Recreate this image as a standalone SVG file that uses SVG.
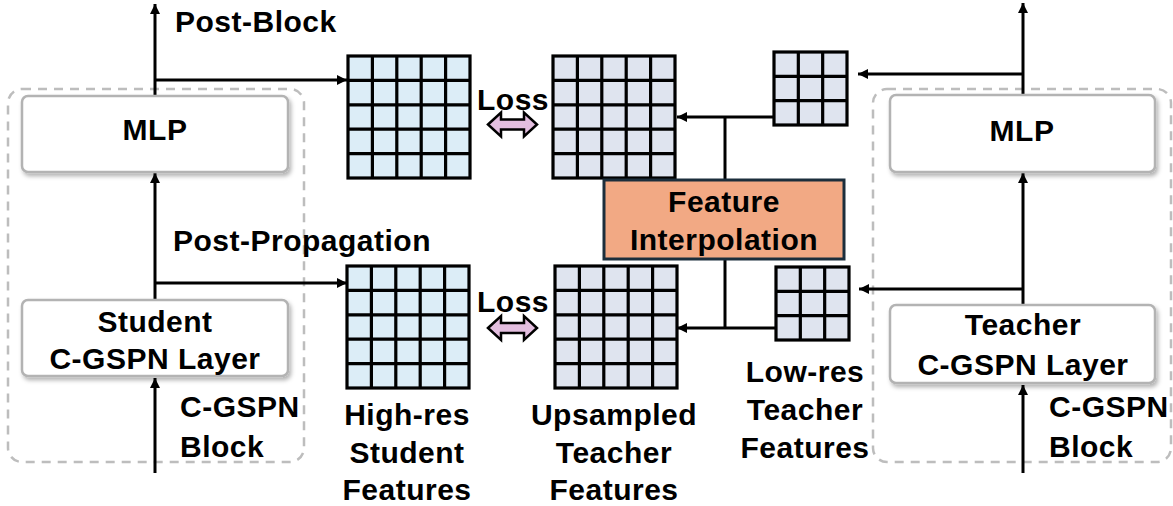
<svg xmlns="http://www.w3.org/2000/svg" xmlns:xlink="http://www.w3.org/1999/xlink" width="1173" height="506" viewBox="0 0 1173 506">
<style>
text{font-family:"Liberation Sans",Arial,sans-serif;font-weight:bold;font-size:30px;letter-spacing:0.5px;fill:#000}
.c{text-anchor:middle}
.box{fill:#fff;stroke:#b3b3b3;stroke-width:2.5}
.dash{fill:none;stroke:#bdbdbd;stroke-width:2.5;stroke-dasharray:9 7}
.grid{stroke:#000;stroke-width:3.2}
.ln{fill:none;stroke:#000;stroke-width:3}
.arr{fill:none;stroke:#000;stroke-width:3;marker-end:url(#ah)}
.loss{fill:#e3bedf;stroke:#000;stroke-width:2.5;stroke-linejoin:miter}
</style>
<defs>
<marker id="ah" viewBox="0 0 10 10" refX="10" refY="5" markerWidth="11" markerHeight="10" markerUnits="userSpaceOnUse" orient="auto">
<path d="M0 0L10 5L0 10z" fill="#000"/>
</marker>
<filter id="sh" x="-10%" y="-20%" width="120%" height="150%">
<feDropShadow dx="2" dy="3" stdDeviation="2" flood-color="#000" flood-opacity="0.3"/>
</filter>
<g id="g5" class="grid">
<rect width="122" height="122"/>
<path fill="none" d="M24.4 0V122M48.8 0V122M73.2 0V122M97.6 0V122M0 24.4H122M0 48.8H122M0 73.2H122M0 97.6H122"/>
</g>
<g id="g3" class="grid">
<rect width="73" height="73"/>
<path fill="none" d="M24.33 0V73M48.67 0V73M0 24.33H73M0 48.67H73"/>
</g>
</defs>

<g id="containers">
<rect class="dash" x="8" y="89" width="296" height="373" rx="14"/>
<rect class="dash" x="873" y="89" width="298" height="373" rx="14"/>
</g>

<g id="connectors">
<path class="arr" d="M155 473V378"/>
<path class="arr" d="M155 300V173"/>
<path class="arr" d="M155 283H347"/>
<path class="arr" d="M155 96V4"/>
<path class="arr" d="M155 80H347"/>
<path class="arr" d="M1023 473V385"/>
<path class="arr" d="M1023 305V173"/>
<path class="arr" d="M1023 289H859"/>
<path class="arr" d="M1023 95V3"/>
<path class="arr" d="M1023 74H858"/>
<path class="arr" d="M773 117H677"/>
<path class="ln" d="M725 117V180"/>
<path class="arr" d="M776 328H677"/>
<path class="ln" d="M725 259V328"/>
</g>

<g id="student-mlp">
<rect class="box" x="22" y="96" width="266" height="76" rx="6" filter="url(#sh)"/>
<text class="c" x="155" y="140">MLP</text>
</g>
<g id="student-layer">
<rect class="box" x="22" y="300" width="266" height="76" rx="6" filter="url(#sh)"/>
<text class="c" x="155" y="332">Student</text>
<text class="c" x="155" y="369">C-GSPN Layer</text>
</g>
<g id="teacher-mlp">
<rect class="box" x="890" y="95" width="265" height="77" rx="6" filter="url(#sh)"/>
<text class="c" x="1022" y="141">MLP</text>
</g>
<g id="teacher-layer">
<rect class="box" x="890" y="305" width="265" height="78" rx="6" filter="url(#sh)"/>
<text class="c" x="1023" y="335">Teacher</text>
<text class="c" x="1023" y="375">C-GSPN Layer</text>
</g>

<g id="labels-left">
<text x="175" y="32">Post-Block</text>
<text x="173" y="251">Post-Propagation</text>
<text x="180" y="417">C-GSPN</text>
<text x="180" y="457">Block</text>
</g>
<g id="labels-right">
<text x="1049" y="417">C-GSPN</text>
<text x="1049" y="457">Block</text>
</g>

<g id="student-feat-top"><use xlink:href="#g5" x="348" y="56" fill="#dcedf7"/></g>
<g id="student-feat-bottom"><use xlink:href="#g5" x="347" y="266" fill="#dcedf7"/></g>
<g id="upsampled-top"><use xlink:href="#g5" x="553" y="56" fill="#dfe4ef"/></g>
<g id="upsampled-bottom"><use xlink:href="#g5" x="555" y="266" fill="#dfe4ef"/></g>
<g id="lowres-top"><use xlink:href="#g3" x="774" y="52" fill="#dfe4ef"/></g>
<g id="lowres-bottom"><use xlink:href="#g3" x="776" y="267" fill="#dfe4ef"/></g>

<g id="loss-top">
<text x="477" y="110">Loss</text>
<path class="loss" d="M488 124.5L501 112.5V119.5H524V112.5L537 124.5L524 136.5V129.5H501V136.5Z"/>
</g>
<g id="loss-bottom">
<text x="477" y="312">Loss</text>
<path class="loss" d="M488 328L501 316V323H524V316L537 328L524 340V333H501V340Z"/>
</g>

<g id="feature-interpolation">
<rect x="604" y="180" width="240" height="79" fill="#f2a984" stroke="#1c2e3c" stroke-width="3"/>
<text class="c" x="724" y="212">Feature</text>
<text class="c" x="724" y="250">Interpolation</text>
</g>

<g id="captions">
<text class="c" x="407" y="425">High-res</text>
<text class="c" x="407" y="463">Student</text>
<text class="c" x="407" y="500">Features</text>
<text class="c" x="614" y="425">Upsampled</text>
<text class="c" x="614" y="463">Teacher</text>
<text class="c" x="614" y="500">Features</text>
<text class="c" x="805" y="382">Low-res</text>
<text class="c" x="805" y="420">Teacher</text>
<text class="c" x="805" y="458">Features</text>
</g>
</svg>
